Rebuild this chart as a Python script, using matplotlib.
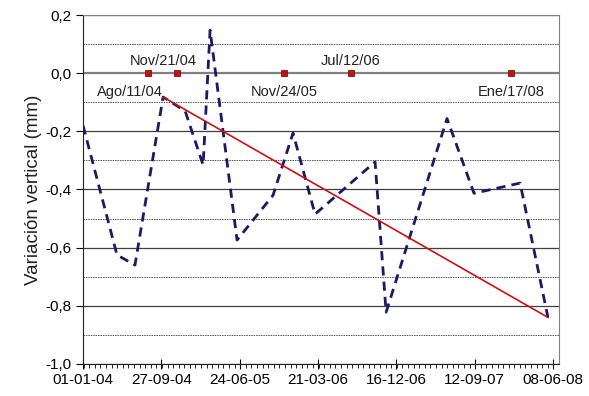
import matplotlib
matplotlib.use('Agg')
import matplotlib.pyplot as plt
import matplotlib.dates as mdates
from matplotlib.ticker import MultipleLocator, FuncFormatter
from datetime import datetime, timedelta

# data
fechas = ['2004-01-01', '2004-04-27', '2004-06-28', '2004-10-03', '2004-12-18',
          '2005-02-18', '2005-03-14', '2005-06-15', '2005-10-17', '2005-12-25',
          '2006-03-11', '2006-10-04', '2006-11-11', '2007-06-09', '2007-09-10',
          '2008-02-16', '2008-05-22']
variacion = [-0.18, -0.625, -0.66, -0.082, -0.13,
             -0.316, 0.148, -0.574, -0.42, -0.206,
             -0.485, -0.305, -0.822, -0.156, -0.413,
             -0.378, -0.84]

tendencia_fechas = ['2004-10-03', '2008-05-22']
tendencia_valores = [-0.082, -0.84]

eventos = ['2004-08-11', '2004-11-21', '2005-11-24', '2006-07-12', '2008-01-17']
eventos_valor = [0, 0, 0, 0, 0]
eventos_texto = ['Ago/11/04', 'Nov/21/04', 'Nov/24/05', 'Jul/12/06', 'Ene/17/08']
eventos_arriba = [False, True, False, True, False]

inicio = datetime(2004, 1, 1)


def to_dt(lista):
    return [datetime.strptime(f, '%Y-%m-%d') for f in lista]


plt.rcParams['font.family'] = ['Liberation Sans', 'DejaVu Sans']

fig = plt.figure(figsize=(5.89, 3.96), dpi=100)
ax = fig.add_axes([0.141, 0.081, 0.808, 0.881])

# horizontal grid
for k in range(-10, 3):
    yv = k / 10
    if k % 2 == 0:
        lw = 1.6 if k == 0 else 0.9
        col = '#808080' if k == 0 else '#404040'
        ax.axhline(yv, color=col, lw=lw, zorder=1)
    else:
        ax.axhline(yv, color='#505050', lw=0.7, ls=(0, (1.5, 1.0)), zorder=1)

ax.plot(to_dt(fechas), variacion, color='#1a1a66', lw=2.0, ls=(0, (3.3, 2.2)), zorder=3)
ax.plot(to_dt(tendencia_fechas), tendencia_valores, color='#d01010', lw=1.2, zorder=4)
ax.plot(to_dt(eventos), eventos_valor, ls='none', marker='s', ms=4.5,
        mfc='#cc1010', mec='#801010', mew=0.6, zorder=5)

for f, t, arriba in zip(to_dt(eventos), eventos_texto, eventos_arriba):
    if t == 'Nov/21/04':
        f = f - timedelta(days=48)
    elif t == 'Ago/11/04':
        f = f - timedelta(days=62)
    if arriba:
        ax.text(f, 0.018, t, ha='center', va='bottom', fontsize=10.5, color='#222222', zorder=6)
    else:
        ax.text(f, -0.042, t, ha='center', va='top', fontsize=10.5, color='#222222', zorder=6)

ax.set_ylim(-1.0, 0.2)
ax.set_xlim(inicio, inicio + timedelta(days=1641))

majors = [mdates.date2num(inicio + timedelta(days=270 * i)) for i in range(7)]
ax.set_xticks(majors)
ax.xaxis.set_major_formatter(mdates.DateFormatter('%d-%m-%y'))
ax.xaxis.set_minor_locator(MultipleLocator(270 / 14))
ax.yaxis.set_major_locator(MultipleLocator(0.2))
ax.yaxis.set_major_formatter(FuncFormatter(lambda v, p: ('%.1f' % v).replace('.', ',').replace('-0,0', '0,0')))

ax.tick_params(axis='x', which='major', direction='inout', length=7, width=0.8, labelsize=11, pad=3)
ax.tick_params(axis='x', which='minor', direction='out', length=3, width=0.6)
ax.tick_params(axis='y', which='major', direction='out', length=5, width=0.8, labelsize=11, pad=3)

ax.set_ylabel('Variación vertical (mm)', fontsize=13.5, color='#222222', labelpad=3)

for s in ['top', 'right']:
    ax.spines[s].set_color('#808080')
for s in ['left', 'bottom']:
    ax.spines[s].set_color('#222222')

fig.savefig('out.png', dpi=100)
